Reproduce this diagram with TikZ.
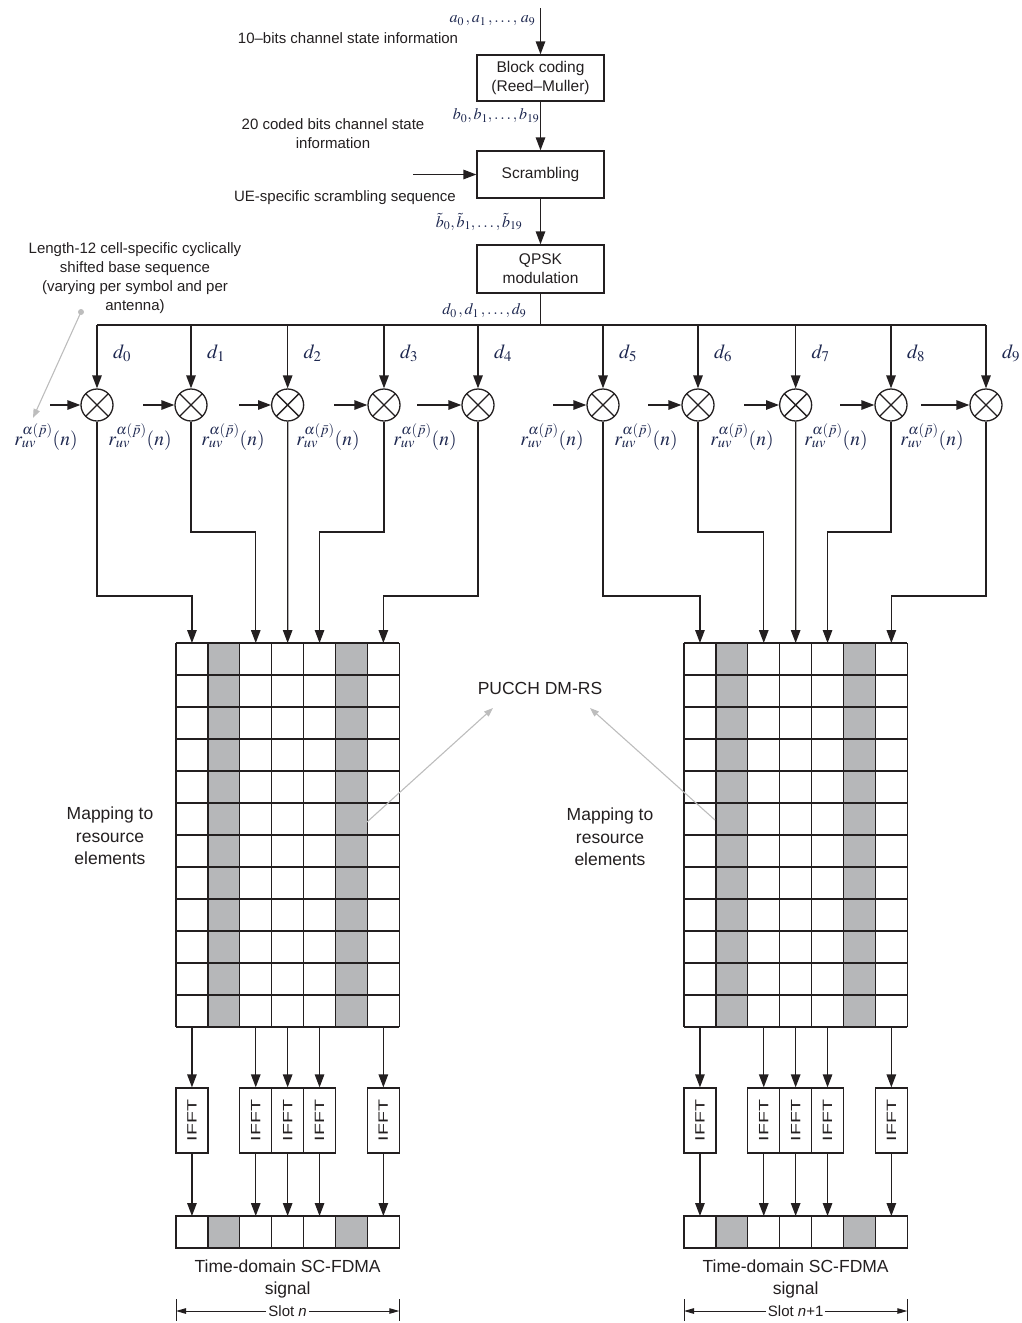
\documentclass[tikz,border=0pt]{standalone}
\usepackage{mathptmx}
\usepackage[no-math]{fontspec}
\usepackage{graphicx}
\setmainfont{Liberation Sans}
\usetikzlibrary{arrows.meta}
\definecolor{ink}{HTML}{231F20}
\definecolor{mathc}{HTML}{1E2850}
\definecolor{cellgray}{HTML}{B6B7B9}
\definecolor{ptr}{HTML}{BDBDBD}
\begin{document}
\begin{tikzpicture}[x=1pt,y=-1pt,line width=1.3pt,color=ink,
  arr/.style={-{Triangle[length=13pt,width=9.5pt]}},
  ptrarr/.style={draw=ptr,line width=1.1pt,-{Triangle[length=9pt,width=6.5pt]}},
  blk/.style={draw,minimum width=127pt,align=center,inner sep=0pt,font=\fontsize{15.5}{19}\selectfont},
  mult/.style={draw,circle,minimum size=32pt,inner sep=0pt,
    path picture={\draw (path picture bounding box.south west) -- (path picture bounding box.north east)
                        (path picture bounding box.north west) -- (path picture bounding box.south east);}},
  lbl/.style={inner sep=0pt,align=center,font=\fontsize{15}{19}\selectfont},
  big/.style={inner sep=0pt,align=center,font=\fontsize{17.5}{22.5}\selectfont},
  ml/.style={inner sep=0pt,text=mathc,font=\fontsize{16}{18}\selectfont},
  dl/.style={inner sep=0pt,text=mathc,font=\fontsize{20}{22}\selectfont},
  rl/.style={inner sep=0pt,text=mathc,font=\fontsize{19.5}{22}\selectfont},
  ifft/.style={draw,rotate=90,minimum width=65pt,minimum height=31.9pt,inner sep=0pt,font=\fontsize{13.5}{13.5}\selectfont},
  dim/.style={line width=1pt,{Triangle[length=10pt,width=5.5pt]}-{Triangle[length=10pt,width=5.5pt]}}]
\useasboundingbox (0,0) rectangle (1021,1323);

% ---------- top chain ----------
\node[blk,minimum height=46pt] (bc) at (540.5,78) {Block coding\\(Reed--Muller)};
\node[blk,minimum height=47pt] (scr) at (540.5,174.5) {Scrambling};
\node[blk,minimum height=48pt] (qpsk) at (540.5,269) {QPSK\\modulation};
\coordinate (top) at (540.5,8);
\coordinate (busq) at (540.5,325);
\coordinate (scrin) at (413,174.5);
\draw[arr] (top) -- (bc);
\draw[arr] (bc) -- (scr);
\draw[arr] (scr) -- (qpsk);
\draw (qpsk) -- (busq);
\draw[arr] (scrin) -- (scr);

\node[ml,anchor=east] (la) at (536,21) {$a_0\,,a_1\,,\ldots,\,a_9$};
\node[ml,anchor=east] (lb) at (540,116) {$b_0,b_1,\ldots,b_{19}$};
\node[ml,anchor=east] (lbt) at (523,222) {$\tilde b_0,\tilde b_1,\ldots,\tilde b_{19}$};
\node[ml,anchor=east] (ld) at (527,311) {$d_0\,,d_1\,,\ldots,d_9$};

\node[lbl] (t10) at (348,38) {10--bits channel state information};
\node[lbl] (t20) at (333,134) {20 coded bits channel state\\information};
\node[lbl] (tue) at (345,198) {UE-specific scrambling sequence};
\node[lbl] (tlen) at (135,278.5) {Length-12 cell-specific cyclically\\shifted base sequence\\(varying per symbol and per\\antenna)};

% ---------- multipliers ----------
\foreach \i/\x/\sx/\rx in {1/97/50/46,2/191/143/140,3/287.65/239/233,4/384/334/328,5/478/417/425,
                          6/603/553/552,7/698/648/646,8/795.65/744/742,9/891/840/836,10/986/921/932}{
  \node[mult] (m\i) at (\x,405) {};
  \coordinate (b\i) at (\x,325);
  \coordinate (s\i) at (\sx,405);
  \draw[arr] (b\i) -- (m\i);
  \draw[arr] (s\i) -- (m\i);
  \node[dl] (d\i) at (\x+25,353) {$d_{\the\numexpr\i-1\relax}$};
  \node[rl] (r\i) at (\rx,437) {$r_{uv}^{\alpha(\bar p)}(n)$};
}
\draw (b1) -- (b10);

% pointer from base-sequence text
\coordinate (dot) at (81,312);
\coordinate (dotend) at (33,418);
\fill[ptr] (dot) circle (3);
\draw[ptrarr] (dot) -- (dotend);

% ---------- grids, IFFTs, time rows ----------
\foreach \g/\gx in {L/176,R/684}{
  \fill[cellgray] (\gx+31.9,643) rectangle ++(31.9,384);
  \fill[cellgray] (\gx+5*31.9,643) rectangle ++(31.9,384);
  \foreach \k in {0,...,7}{\draw (\gx+\k*31.9,643) -- ++(0,384);}
  \foreach \j in {0,...,12}{\draw (\gx,643+\j*32) -- ++(223.3,0);}
  % time-domain row
  \fill[cellgray] (\gx+31.9,1216) rectangle ++(31.9,32);
  \fill[cellgray] (\gx+5*31.9,1216) rectangle ++(31.9,32);
  \draw (\gx,1216) rectangle ++(223.3,32);
  \foreach \k in {1,...,6}{\draw (\gx+\k*31.9,1216) -- ++(0,32);}
  \foreach \c in {1,3,4,5,7}{
    \coordinate (g\g\c) at (\gx+\c*31.9-15.95,643);
    \coordinate (h\g\c) at (\gx+\c*31.9-15.95,1027);
    \coordinate (t\g\c) at (\gx+\c*31.9-15.95,1216);
    \node[ifft] (f\g\c) at (\gx+\c*31.9-15.95,1120.5) {\scalebox{1.45}[1]{IFFT}};
    \draw[arr] (h\g\c) -- (f\g\c);
    \draw[arr] (f\g\c) -- (t\g\c);
  }
  \coordinate (sl\g) at (\gx,1311);
  \coordinate (sr\g) at (\gx+223.3,1311);
  \draw[line width=1pt] (\gx,1299) -- ++(0,22);
  \draw[line width=1pt] (\gx+223.3,1299) -- ++(0,22);
  \node[big] (td\g) at (\gx+111.65,1279) {Time-domain SC-FDMA\\signal};
}
\draw[dim] (slL) -- node[fill=white,inner sep=2pt,font=\fontsize{15}{15}\selectfont] (slotL) {Slot \textit{n}} (srL);
\draw[dim] (slR) -- node[fill=white,inner sep=2pt,font=\fontsize{15}{15}\selectfont] (slotR) {Slot \textit{n}+1} (srR);

% ---------- multiplier outputs to grids ----------
\draw[arr] (m1) -- ++(0,191) -| (gL1);
\draw[arr] (m2) -- ++(0,127) -| (gL3);
\draw[arr] (m3) -- (gL4);
\draw[arr] (m4) -- ++(0,127) -| (gL5);
\draw[arr] (m5) -- ++(0,191) -| (gL7);
\draw[arr] (m6) -- ++(0,191) -| (gR1);
\draw[arr] (m7) -- ++(0,127) -| (gR3);
\draw[arr] (m8) -- (gR4);
\draw[arr] (m9) -- ++(0,127) -| (gR5);
\draw[arr] (m10) -- ++(0,191) -| (gR7);

% ---------- labels in the grid area ----------
\node[big] (mapL) at (110,836) {Mapping to\\resource\\elements};
\node[big] (mapR) at (610,837) {Mapping to\\resource\\elements};
\node[big] (dmrs) at (540,688) {PUCCH DM-RS};
\coordinate (pl) at (367,822);
\coordinate (pr) at (715,820);
\coordinate (pla) at (493,708);
\coordinate (pra) at (590,708);
\draw[ptrarr] (pl) -- (pla);
\draw[ptrarr] (pr) -- (pra);
\end{tikzpicture}
\end{document}
